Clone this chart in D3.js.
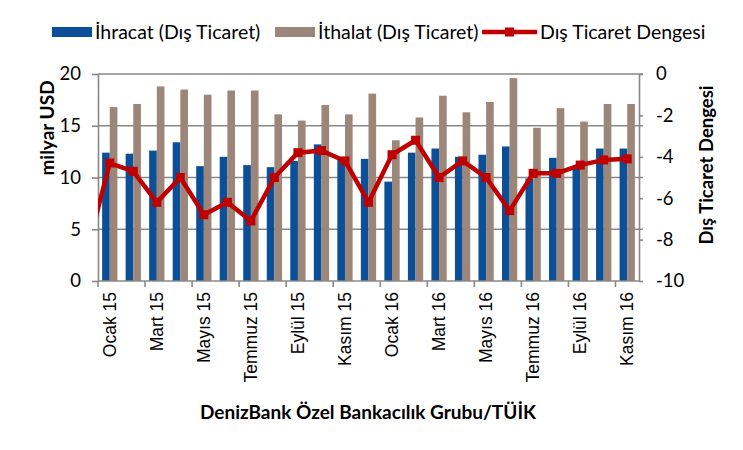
<!DOCTYPE html>
<html>
<head>
<meta charset="utf-8">
<script src="https://cdn.jsdelivr.net/npm/d3@7"></script>
<style>
  html, body { margin: 0; padding: 0; background: #fff; }
  svg { display: block; }
</style>
</head>
<body>
<script>
// ---- DATA ----
const months = ["Ocak 15","Şubat 15","Mart 15","Nisan 15","Mayıs 15","Haziran 15","Temmuz 15","Ağustos 15","Eylül 15","Ekim 15","Kasım 15","Aralık 15",
                "Ocak 16","Şubat 16","Mart 16","Nisan 16","Mayıs 16","Haziran 16","Temmuz 16","Ağustos 16","Eylül 16","Ekim 16","Kasım 16"];
const ihracat = [12.4, 12.3, 12.6, 13.4, 11.1, 12.0, 11.2, 11.0, 11.6, 13.2, 11.8, 11.8,
                 9.6, 12.4, 12.8, 12.0, 12.2, 13.0, 9.9, 11.9, 11.0, 12.8, 12.8];
const ithalat = [16.8, 17.1, 18.8, 18.5, 18.0, 18.4, 18.4, 16.1, 15.5, 17.0, 16.1, 18.1,
                 13.6, 15.8, 17.9, 16.3, 17.3, 19.6, 14.8, 16.7, 15.4, 17.1, 17.1];
// balance series starts one month earlier (Aralık 14), clipped at the plot edge
const dengeMonths = ["Aralık 14"].concat(months);
const denge = [-8.7, -4.3, -4.7, -6.2, -5.0, -6.8, -6.2, -7.1, -5.0, -3.8, -3.7, -4.2, -6.2,
               -3.9, -3.2, -5.0, -4.2, -5.0, -6.6, -4.8, -4.8, -4.4, -4.15, -4.1];
const leftTicks = [0, 5, 10, 15, 20];
const rightTicks = [0, -2, -4, -6, -8, -10];
const seriesNames = ["İhracat (Dış Ticaret)", "İthalat (Dış Ticaret)", "Dış Ticaret Dengesi"];
const leftTitle = "milyar USD";
const rightTitle = "Dış Ticaret Dengesi";
const bottomTitle = "DenizBank Özel Bankacılık Grubu/TÜİK";

// ---- LAYOUT ----
const W = 743, H = 450;
const L = 98, R = 639, T = 74, B = 281;
const cBlue = "#0b4f98", cBrown = "#9c8679", cRed = "#c00000", cGrid = "#888888";
const numFont = "Lato, 'Open Sans', sans-serif";

const svg = d3.select("body").append("svg").attr("width", W).attr("height", H);

const x = d3.scaleBand().domain(months).range([L, R]).paddingInner(0.35).paddingOuter(0.175);
const step = x.step();
const xs = d3.scaleBand().domain(["ihracat", "ithalat"]).range([0, x.bandwidth()]);
const yL = d3.scaleLinear().domain([0, 20]).range([B, T]);
const yR = d3.scaleLinear().domain([-10, 0]).range([B, T]);
const xLine = d3.scaleLinear().domain([0, months.length - 1])
  .range([x(months[0]) + x.bandwidth() / 2, x(months[months.length - 1]) + x.bandwidth() / 2]);

// gridlines
svg.append("g").selectAll("line").data(leftTicks.filter(d => d > 0)).join("line")
  .attr("x1", L).attr("x2", R + 4)
  .attr("y1", d => yL(d)).attr("y2", d => yL(d))
  .attr("stroke", cGrid).attr("stroke-width", 1.6);

// bars
const bars = svg.append("g");
bars.selectAll("rect.ih").data(months).join("rect").attr("class", "ih")
  .attr("x", d => x(d) + xs("ihracat")).attr("width", xs.bandwidth())
  .attr("y", (d, i) => yL(ihracat[i])).attr("height", (d, i) => yL(0) - yL(ihracat[i]))
  .attr("fill", cBlue);
bars.selectAll("rect.it").data(months).join("rect").attr("class", "it")
  .attr("x", d => x(d) + xs("ithalat")).attr("width", xs.bandwidth())
  .attr("y", (d, i) => yL(ithalat[i])).attr("height", (d, i) => yL(0) - yL(ithalat[i]))
  .attr("fill", cBrown);

// left axis
const gl = svg.append("g").attr("transform", `translate(${L},0)`)
  .call(d3.axisLeft(yL).tickValues(leftTicks).tickSize(6).tickPadding(11).tickSizeOuter(0));
gl.select(".domain").attr("stroke", cGrid).attr("stroke-width", 1.6);
gl.selectAll(".tick line").attr("stroke", cGrid).attr("stroke-width", 1.6);
gl.selectAll(".tick text").attr("font-family", numFont).attr("font-size", 18.5).attr("fill", "#000");

// right axis
const gr = svg.append("g").attr("transform", `translate(${R},0)`)
  .call(d3.axisRight(yR).tickValues(rightTicks).tickSize(4).tickPadding(13).tickSizeOuter(0)
    .tickFormat(d => d === 0 ? "0" : "-" + Math.abs(d)));
gr.select(".domain").attr("stroke", cGrid).attr("stroke-width", 1.6);
gr.selectAll(".tick line").attr("stroke", cGrid).attr("stroke-width", 1.6);
gr.selectAll(".tick text").attr("font-family", numFont).attr("font-size", 18.5).attr("fill", "#000");

// bottom axis
const gb = svg.append("g");
gb.append("line").attr("x1", L).attr("x2", R).attr("y1", B).attr("y2", B)
  .attr("stroke", cGrid).attr("stroke-width", 1.6);
const tickIdx = d3.range(0, months.length, 2);
gb.selectAll("line.tk").data(tickIdx).join("line").attr("class", "tk")
  .attr("x1", i => x(months[i]) - step * 0.175).attr("x2", i => x(months[i]) - step * 0.175)
  .attr("y1", B).attr("y2", B + 6).attr("stroke", cGrid).attr("stroke-width", 1.6);
gb.selectAll("text").data(tickIdx).join("text")
  .attr("transform", i => `translate(${x(months[i]) + x.bandwidth() / 2 + 6},${B + 11}) rotate(-90)`)
  .attr("text-anchor", "end")
  .attr("font-family", "'Liberation Sans', Arial, sans-serif").attr("font-size", 17.5)
  .attr("fill", "#000")
  .text(i => months[i]);

// balance line
svg.append("clipPath").attr("id", "plotclip").append("rect")
  .attr("x", L).attr("y", T - 10).attr("width", R - L).attr("height", B - T + 20);
const lg = svg.append("g").attr("clip-path", "url(#plotclip)");
const line = d3.line().x((d, i) => xLine(i - 1)).y(d => yR(d));
lg.append("path").datum(denge).attr("d", line)
  .attr("fill", "none").attr("stroke", cRed).attr("stroke-width", 4.5).attr("stroke-linejoin", "round");
lg.selectAll("rect.mk").data(denge).join("rect").attr("class", "mk")
  .attr("x", (d, i) => xLine(i - 1) - 4.5).attr("y", d => yR(d) - 4.5)
  .attr("width", 9).attr("height", 9).attr("fill", cRed);

// axis titles
svg.append("text").attr("transform", `translate(54,128) rotate(-90)`)
  .attr("text-anchor", "middle").attr("font-family", numFont).attr("font-weight", "bold")
  .attr("font-size", 19).text(leftTitle);
svg.append("text").attr("transform", `translate(713,165) rotate(-90)`)
  .attr("text-anchor", "middle").attr("font-family", numFont).attr("font-weight", "bold")
  .attr("font-size", 18.5).text(rightTitle);
svg.append("text").attr("x", 368).attr("y", 419)
  .attr("text-anchor", "middle").attr("font-family", numFont).attr("font-weight", "bold")
  .attr("font-size", 19).text(bottomTitle);

// legend
const leg = svg.append("g").attr("font-family", numFont).attr("font-size", 19.5);
leg.append("rect").attr("x", 52).attr("y", 27).attr("width", 40).attr("height", 10).attr("fill", cBlue);
leg.append("text").attr("x", 95).attr("y", 39).text(seriesNames[0]);
leg.append("rect").attr("x", 275).attr("y", 27).attr("width", 40).attr("height", 10).attr("fill", cBrown);
leg.append("text").attr("x", 318).attr("y", 39).text(seriesNames[1]);
leg.append("line").attr("x1", 482).attr("x2", 537).attr("y1", 32).attr("y2", 32)
  .attr("stroke", cRed).attr("stroke-width", 4.5);
leg.append("rect").attr("x", 505).attr("y", 27.5).attr("width", 9).attr("height", 9).attr("fill", cRed);
leg.append("text").attr("x", 540).attr("y", 39).text(seriesNames[2]);
</script>
</body>
</html>
